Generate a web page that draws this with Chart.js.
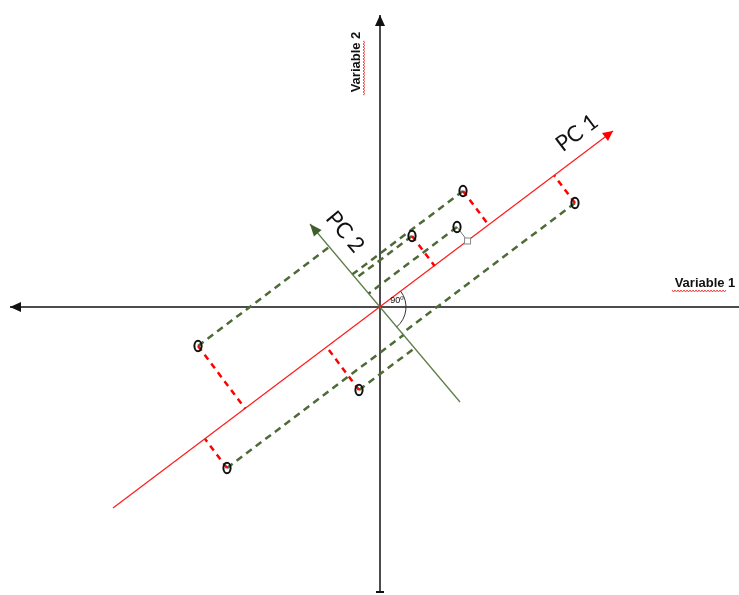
<!DOCTYPE html>
<html>
<head>
<meta charset="utf-8">
<script src="https://cdn.jsdelivr.net/npm/chart.js@4.4.1/dist/chart.umd.min.js"></script>
<style>
  html, body { margin: 0; padding: 0; background: #fff; }
  #wrap { width: 739px; height: 595px; position: relative; }
</style>
</head>
<body>
<div id="wrap"><canvas id="pcaChart"></canvas></div>
<script>
// observations (Variable 1, Variable 2)
const obsX = [83, 32, 77, 195, -182, -21, -153];
const obsY = [116, 71, 80, 104, -39, -83, -161];
// 'dash' = red dashed drop onto PC 1, 'handle' = plain grey drop with a small box
const dropStyle = ['dash', 'dash', 'handle', 'dash', 'dash', 'dash', 'dash'];

// principal component lines (start -> arrow tip)
const pc1X = [-267, 233];
const pc1Y = [-201, 176];
const pc2X = [80, -70];
const pc2Y = [-95, 83];

// original variable axes
const axis1X = [-370, 359];
const axis2Y = [-285, 292];

const GREEN = '#4e6b37';
const RED = '#ff1a1a';

// foot of perpendicular from (x, y) onto the line through the origin along (dx, dy)
function footOn(x, y, dx, dy) {
    const t = (x * dx + y * dy) / (dx * dx + dy * dy);
    return [t * dx, t * dy];
}

// slide (x, y) parallel to PC 1 until it meets the PC 2 line
function slideToPc2(x, y) {
    const ux = pc1X[1] - pc1X[0], uy = pc1Y[1] - pc1Y[0];
    const vx = pc2X[1] - pc2X[0], vy = pc2Y[1] - pc2Y[0];
    // (x,y) + s*u = pc2Start + r*v
    const ax = pc2X[0] - x, ay = pc2Y[0] - y;
    const det = ux * (-vy) - uy * (-vx);
    const s = (ax * (-vy) - ay * (-vx)) / det;
    return [x + s * ux, y + s * uy];
}

const pc1dx = pc1X[1] - pc1X[0], pc1dy = pc1Y[1] - pc1Y[0];

const datasets = [];

// "o" marker drawn as a slim ellipse
const marker = document.createElement('canvas');
marker.width = 14; marker.height = 16;
(function () {
    const m = marker.getContext('2d');
    m.strokeStyle = '#111';
    m.lineWidth = 2;
    m.beginPath();
    m.ellipse(7, 8, 3.6, 5.2, 0, 0, Math.PI * 2);
    m.stroke();
})();

datasets.push({
    data: obsX.map((x, i) => ({ x: x, y: obsY[i] })),
    showLine: false,
    pointStyle: marker,
    pointRadius: 7,
    pointHoverRadius: 7
});

// red drops onto PC 1
obsX.forEach((x, i) => {
    const f = footOn(x, obsY[i], pc1dx, pc1dy);
    const isDash = dropStyle[i] === 'dash';
    datasets.push({
        data: [{ x: x, y: obsY[i] }, { x: f[0], y: f[1] }],
        showLine: true,
        borderColor: isDash ? '#ff0000' : '#777',
        borderWidth: isDash ? 2.5 : 1,
        borderDash: isDash ? [6, 5] : [],
        pointRadius: 0
    });
});

// green dashed slides onto PC 2
obsX.forEach((x, i) => {
    const g = slideToPc2(x, obsY[i]);
    datasets.push({
        data: [{ x: x, y: obsY[i] }, { x: g[0], y: g[1] }],
        showLine: true,
        borderColor: GREEN,
        borderWidth: 2.5,
        borderDash: [7, 5],
        pointRadius: 0
    });
});

datasets.push({
    data: [{ x: pc1X[0], y: pc1Y[0] }, { x: pc1X[1], y: pc1Y[1] }],
    showLine: true, borderColor: RED, borderWidth: 1.2, pointRadius: 0
});
datasets.push({
    data: [{ x: pc2X[0], y: pc2Y[0] }, { x: pc2X[1], y: pc2Y[1] }],
    showLine: true, borderColor: '#5f7f4a', borderWidth: 1.3, pointRadius: 0
});
datasets.push({
    data: [{ x: axis1X[0], y: 0 }, { x: axis1X[1], y: 0 }],
    showLine: true, borderColor: '#111', borderWidth: 1.5, pointRadius: 0
});
datasets.push({
    data: [{ x: 0, y: axis2Y[0] }, { x: 0, y: axis2Y[1] }],
    showLine: true, borderColor: '#111', borderWidth: 1.5, pointRadius: 0
});

function arrowHead(c, x0, y0, x1, y1, len, half, color) {
    const a = Math.atan2(y1 - y0, x1 - x0);
    c.save();
    c.translate(x1, y1);
    c.rotate(a);
    c.fillStyle = color;
    c.beginPath();
    c.moveTo(0, 0);
    c.lineTo(-len, -half);
    c.lineTo(-len, half);
    c.closePath();
    c.fill();
    c.restore();
}

function wavy(c, x0, y0, length, vertical) {
    c.save();
    c.strokeStyle = '#e83030';
    c.lineWidth = 0.9;
    c.beginPath();
    for (let s = 0; s <= length; s += 1.5) {
        const off = (Math.round(s / 1.5) % 2) ? 1 : -1;
        const px = vertical ? x0 + off : x0 + s;
        const py = vertical ? y0 - s : y0 + off;
        if (s === 0) c.moveTo(px, py); else c.lineTo(px, py);
    }
    c.stroke();
    c.restore();
}

const decorations = {
    id: 'decorations',
    afterDatasetsDraw(chart) {
        const c = chart.ctx;
        const sx = chart.scales.x, sy = chart.scales.y;
        const X = v => sx.getPixelForValue(v);
        const Y = v => sy.getPixelForValue(v);

        // axis arrows and the flat end at the bottom
        arrowHead(c, X(0), Y(0), X(0), Y(axis2Y[1]), 11, 5, '#111');
        arrowHead(c, X(0), Y(0), X(axis1X[0]), Y(0), 11, 5, '#111');
        c.fillStyle = '#111';
        c.fillRect(X(0) - 4, Y(axis2Y[0]) - 1, 8, 2);

        // component arrows
        arrowHead(c, X(pc1X[0]), Y(pc1Y[0]), X(pc1X[1]), Y(pc1Y[1]), 10, 5, '#ff0000');
        arrowHead(c, X(pc2X[0]), Y(pc2Y[0]), X(pc2X[1]), Y(pc2Y[1]), 12, 5, '#3f5e2c');

        // little box at the foot of the grey drop
        obsX.forEach((x, i) => {
            if (dropStyle[i] !== 'handle') return;
            const f = footOn(x, obsY[i], pc1dx, pc1dy);
            c.fillStyle = '#fff';
            c.strokeStyle = '#888';
            c.lineWidth = 1;
            c.fillRect(X(f[0]) - 3, Y(f[1]) - 3, 6, 6);
            c.strokeRect(X(f[0]) - 3, Y(f[1]) - 3, 6, 6);
        });

        // right-angle arc between PC 1 and PC 2
        const a1 = Math.atan2(Y(pc1Y[1]) - Y(0), X(pc1X[1]) - X(0));
        const a2 = Math.atan2(Y(pc2Y[0]) - Y(0), X(pc2X[0]) - X(0));
        c.strokeStyle = '#333';
        c.lineWidth = 1;
        c.beginPath();
        c.arc(X(0), Y(0), 26, a1, a2);
        c.stroke();

        c.fillStyle = '#111';
        c.textAlign = 'center';
        c.textBaseline = 'middle';
        c.font = '9px "Liberation Sans", Arial, sans-serif';
        c.fillText('90º', X(17), Y(6));

        // axis titles
        c.font = 'bold 13px "Liberation Sans", Arial, sans-serif';
        c.fillText('Variable 1', X(325), Y(24));
        wavy(c, X(325) - 33, Y(24) + 8, 54, false);

        c.save();
        c.translate(X(-24), Y(245));
        c.rotate(-Math.PI / 2);
        c.fillText('Variable 2', 0, 0);
        c.restore();
        wavy(c, X(-24) + 8, Y(245) + 33, 54, true);

        // component labels
        c.font = '22px Lato, "Open Sans", sans-serif';
        c.save();
        c.translate(X(197), Y(174));
        c.rotate(a1);
        c.fillText('PC 1', 0, 0);
        c.restore();

        c.save();
        c.translate(X(-35), Y(75));
        c.rotate(a2);
        c.fillText('PC 2', 0, 0);
        c.restore();
    }
};

new Chart(document.getElementById('pcaChart'), {
    type: 'scatter',
    data: { datasets: datasets },
    options: {
        responsive: true,
        maintainAspectRatio: false,
        animation: false,
        layout: { padding: 0, autoPadding: false },
        plugins: { legend: { display: false }, tooltip: { enabled: false } },
        scales: {
            x: { type: 'linear', min: -380, max: 359, display: false },
            y: { type: 'linear', min: -288, max: 307, display: false }
        }
    },
    plugins: [decorations]
});
</script>
</body>
</html>
